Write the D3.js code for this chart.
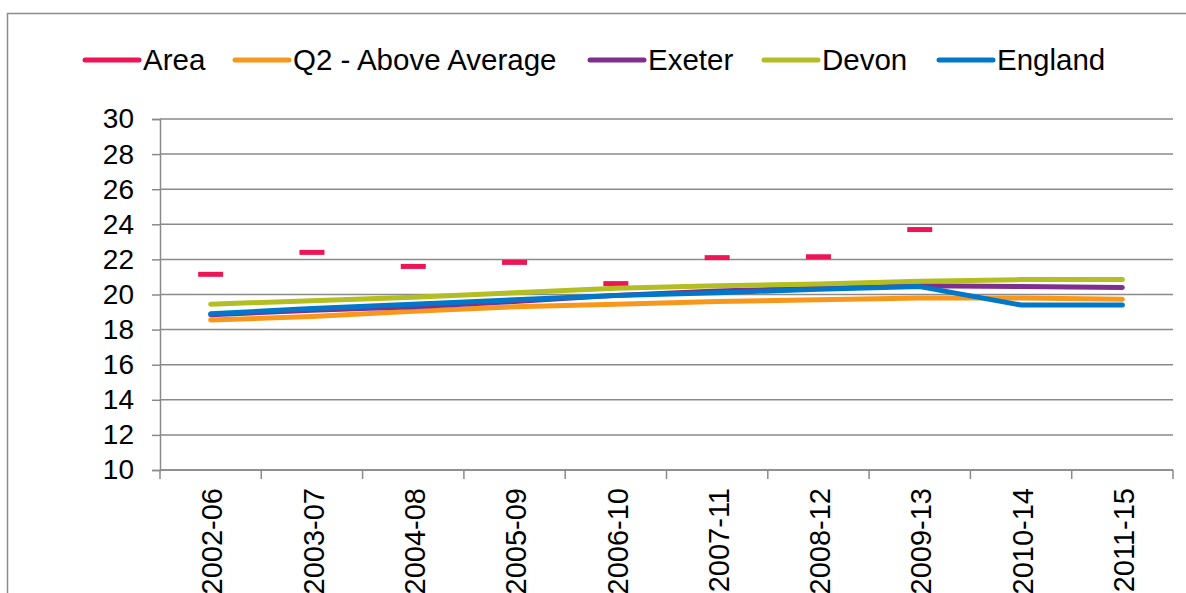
<!DOCTYPE html>
<html><head><meta charset="utf-8">
<script src="https://cdn.jsdelivr.net/npm/d3@7"></script>
<style>body{margin:0;background:#fff;}svg{display:block;font-family:"Liberation Sans",Arial,sans-serif;}</style>
</head><body>
<svg id="c" width="1186" height="593"></svg>
<script>
const categories = ["2002-06","2003-07","2004-08","2005-09","2006-10","2007-11","2008-12","2009-13","2010-14","2011-15"];
const areaValues = [21.15, 22.4, 21.6, 21.83, 20.62, 22.1, 22.15, 23.7, null, null];
const q2Values = [18.55, 18.75, 19.05, 19.3, 19.45, 19.6, 19.7, 19.8, 19.8, 19.73];
const exeterValues = [18.85, 19.1, 19.3, 19.6, 19.95, 20.2, 20.35, 20.5, 20.45, 20.4];
const devonValues = [19.45, 19.65, 19.85, 20.1, 20.35, 20.5, 20.6, 20.75, 20.85, 20.85];
const englandValues = [18.9, 19.2, 19.45, 19.7, 19.95, 20.1, 20.3, 20.45, 19.4, 19.4];
const yTicks = [10,12,14,16,18,20,22,24,26,28,30];
const seriesNames = ["Area","Q2 - Above Average","Exeter","Devon","England"];
const seriesColors = ["#ED1556","#F7981D","#7F2F8E","#B3BE22","#0077C8"];

const FS = 28, FSL = 29.5, FSX = 29;
const svg = d3.select("#c");
const L = 160, R = 1173, T = 119, B = 470;
// outer border
svg.append("path").attr("d","M7.5,593 L7.5,13.5 L1186,13.5").attr("fill","none").attr("stroke","#8c8c8c").attr("stroke-width",1.5);

const x = d3.scaleBand().domain(categories).range([L,R]);
const y = d3.scaleLinear().domain([10,30]).range([B,T]);

// gridlines
svg.append("g").selectAll("line").data(yTicks).join("line")
  .attr("x1",L).attr("x2",R).attr("y1",d=>y(d)).attr("y2",d=>y(d))
  .attr("stroke","#8a8a8a").attr("stroke-width",1.5);

// y axis
const yAxis = d3.axisLeft(y).tickValues(yTicks).tickSize(8).tickPadding(18);
const gy = svg.append("g").attr("transform",`translate(${L},0)`).call(yAxis);
gy.attr("font-size",FS).attr("font-family","Liberation Sans, Arial, sans-serif");
gy.select(".domain").attr("stroke","#8a8a8a").attr("stroke-width",1.5);
gy.selectAll(".tick line").attr("stroke","#8a8a8a").attr("stroke-width",1.5);
gy.selectAll("text").attr("fill","#000");

// x axis
const gx = svg.append("g").attr("transform",`translate(0,${B})`);
gx.append("line").attr("x1",L).attr("x2",R).attr("stroke","#8a8a8a").attr("stroke-width",1.5);
const edges = categories.map(c=>x(c)).concat([R]);
gx.selectAll("line.tk").data(edges).join("line").attr("class","tk")
  .attr("x1",d=>d).attr("x2",d=>d).attr("y1",0).attr("y2",9)
  .attr("stroke","#8a8a8a").attr("stroke-width",1.5);
gx.selectAll("text").data(categories).join("text")
  .attr("transform",d=>`translate(${x(d)+x.bandwidth()/2+1.5},18) rotate(-90)`)
  .attr("text-anchor","end").attr("dy","0.35em").attr("font-size",FSX).attr("fill","#000").text(d=>d);

const cx = d => x(d)+x.bandwidth()/2;

// Area markers
svg.append("g").selectAll("rect").data(categories.map((c,i)=>({c,v:areaValues[i]})).filter(d=>d.v!=null))
  .join("rect").attr("x",d=>cx(d.c)-12.5).attr("y",d=>y(d.v)-2.5).attr("width",25).attr("height",5)
  .attr("fill",seriesColors[0]);

const line = d3.line().x((d,i)=>cx(categories[i])).y(d=>y(d));
[q2Values, exeterValues, devonValues, englandValues].forEach((vals,k)=>{
  svg.append("path").datum(vals).attr("d",line).attr("fill","none")
    .attr("stroke",seriesColors[k+1]).attr("stroke-width",5)
    .attr("stroke-linecap","round").attr("stroke-linejoin","round");
});

// legend
const legX = [85, 235, 590, 764, 939];
const lg = svg.append("g");
seriesNames.forEach((n,i)=>{
  lg.append("line").attr("x1",legX[i]).attr("x2",legX[i]+54).attr("y1",60).attr("y2",60)
    .attr("stroke",seriesColors[i]).attr("stroke-width",5).attr("stroke-linecap","round");
  lg.append("text").attr("x",legX[i]+58).attr("y",60).attr("dy","0.35em")
    .attr("font-size",FSL).attr("fill","#000").text(n);
});
</script>
</body></html>
